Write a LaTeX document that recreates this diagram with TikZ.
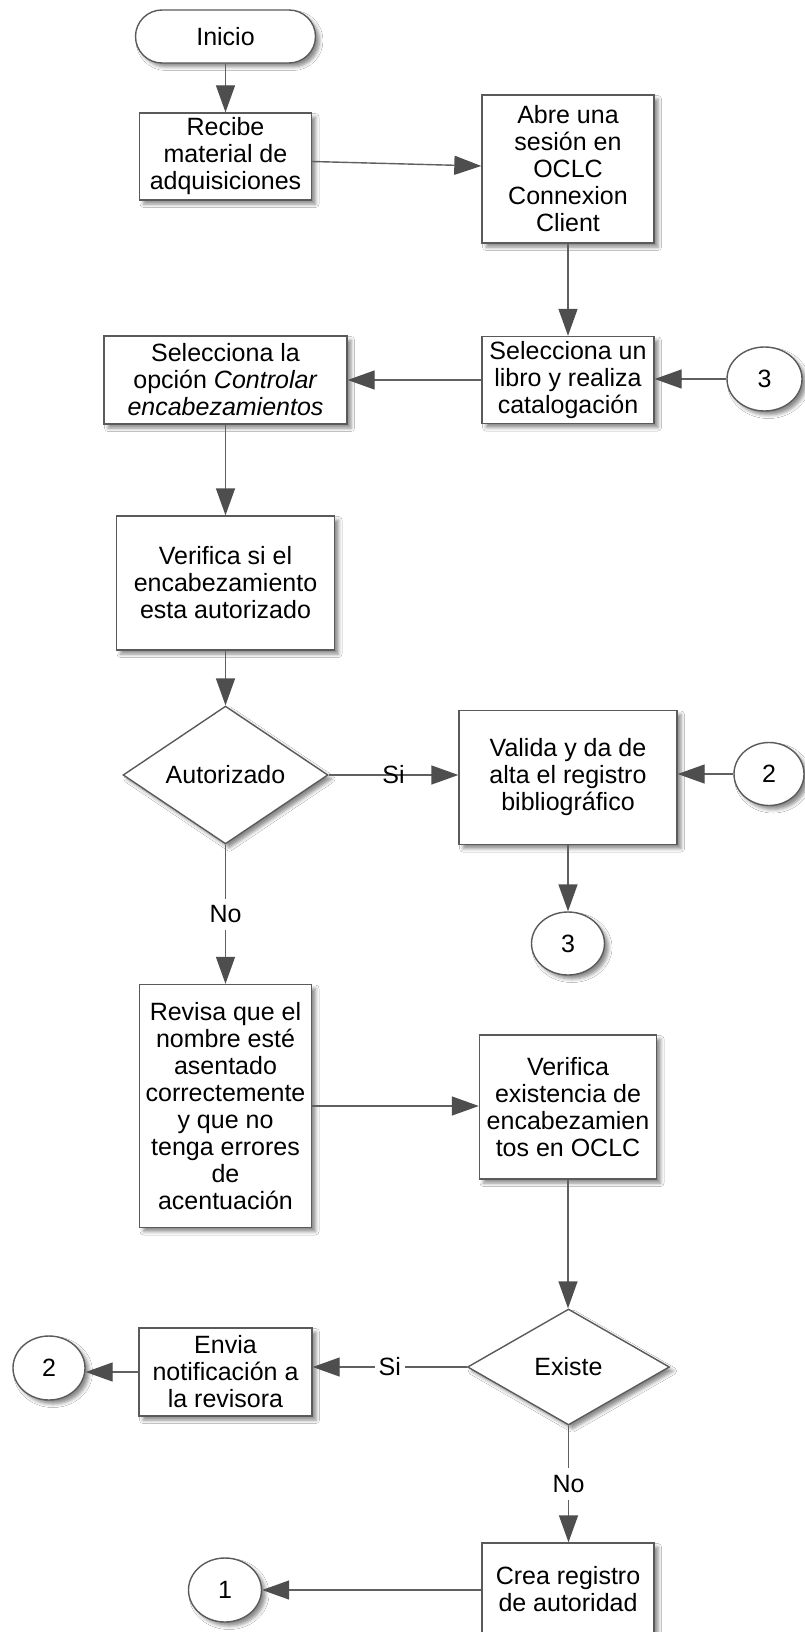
\documentclass[tikz,border=0pt]{standalone}
\usepackage{fontspec}
\setmainfont{Liberation Sans}
\usetikzlibrary{shapes.geometric, arrows.meta, shadows.blur}
\definecolor{edgegray}{HTML}{5A5A5A}
\definecolor{wiregray}{HTML}{606060}
\definecolor{tipgray}{HTML}{4E4E4E}

\begin{document}
\begin{tikzpicture}[x=1pt, y=-1pt,
  nodebase/.style={draw=edgegray, line width=1.4pt, fill=white, text=black,
    font=\fontsize{25}{27}\selectfont, align=center,
    blur shadow={shadow xshift=4pt, shadow yshift=-4pt,
                 shadow blur radius=3.5pt, shadow opacity=45}},
  procbox/.style={nodebase, rectangle, inner sep=4pt},
  terminal/.style={nodebase, rectangle, rounded corners=26.5pt, inner sep=4pt},
  decision/.style={nodebase, diamond, inner sep=0pt},
  onpage/.style={nodebase, ellipse, inner sep=0pt},
  connector/.style={draw=wiregray, line width=1.4pt,
    -{Triangle[length=27pt, width=19pt, color=tipgray, fill=tipgray]}},
  edgelabel/.style={font=\fontsize{25}{27}\selectfont, text=black,
    fill=white, inner xsep=4pt, inner ysep=7pt},
]
  % page area
  \fill[white] (0,0) rectangle (805,1632);
  \useasboundingbox (0,0) rectangle (805,1632);

  % left column
  \node[terminal, minimum width=180pt, minimum height=53pt] (inicio) at (225.5,36.5) {Inicio};
  \node[procbox, minimum width=172pt, minimum height=87pt] (recibe) at (225.5,156.5)
    {Recibe\\material de\\adquisiciones};
  \node[procbox, minimum width=243pt, minimum height=88pt] (opcion) at (225.5,380)
    {Selecciona la\\opción \textit{Controlar}\\\textit{encabezamientos}};
  \node[procbox, minimum width=218pt, minimum height=134pt] (verifica) at (225.5,583)
    {Verifica si el\\encabezamiento\\esta autorizado};
  \node[decision, minimum width=205pt, minimum height=115pt] (autor) at (225.5,775) {Autorizado};
  \node[procbox, minimum width=172pt, minimum height=243pt] (revisa) at (225.5,1106)
    {Revisa que el\\nombre esté\\asentado\\correctemente\\y que no\\tenga errores\\de\\acentuación};
  \node[procbox, minimum width=173pt, minimum height=88pt] (envia) at (225.5,1372)
    {Envia\\notificación a\\la revisora};
  \node[onpage, minimum width=72pt, minimum height=64pt] (dosB) at (49,1368) {2};
  \node[onpage, minimum width=73pt, minimum height=64pt] (uno) at (225,1590) {1};

  % right column
  \node[procbox, minimum width=172pt, minimum height=148pt] (abre) at (568,169)
    {Abre una\\sesión en\\OCLC\\Connexion\\Client};
  \node[procbox, minimum width=172pt, minimum height=87pt] (libro) at (568,380)
    {Selecciona un\\libro y realiza\\catalogación};
  \node[onpage, minimum width=75pt, minimum height=64pt] (tresA) at (764.5,379) {3};
  \node[procbox, minimum width=218pt, minimum height=134pt] (valida) at (568,777.5)
    {Valida y da de\\alta el registro\\bibliográfico};
  \node[onpage, minimum width=70pt, minimum height=63pt] (dosA) at (769,774) {2};
  \node[onpage, minimum width=73pt, minimum height=63pt] (tresB) at (568,943.5) {3};
  \node[procbox, minimum width=177pt, minimum height=144pt] (existencia) at (568,1107)
    {Verifica\\existencia de\\encabezamien\\tos en OCLC};
  \node[decision, minimum width=202pt, minimum height=116pt] (existe) at (568.5,1367) {Existe};
  \node[procbox, minimum width=172pt, minimum height=92pt] (crea) at (568,1589)
    {Crea registro\\de autoridad};

  % flow
  \draw[connector] (inicio.south) -- (inicio.south |- recibe.north);
  \draw[connector] ([yshift=-5pt]recibe.east) -- ([yshift=3pt]abre.west);
  \draw[connector] (abre.south) -- (abre.south |- libro.north);
  \draw[connector] (tresA.west) -- (tresA.west -| libro.east);
  \draw[connector] (libro.west) -- (libro.west -| opcion.east);
  \draw[connector] (opcion.south) -- (opcion.south |- verifica.north);
  \draw[connector] (verifica.south) -- (verifica.south |- autor.north);
  \draw[connector] (autor.east) -- (autor.east -| valida.west)
    node[midway, edgelabel, fill=none] {Si};
  \draw[connector] (dosA.west) -- (dosA.west -| valida.east);
  \draw[connector] (valida.south) -- (valida.south |- tresB.north);
  \draw[connector] (autor.south) -- (autor.south |- revisa.north)
    node[midway, edgelabel] {No};
  \draw[connector] (revisa.east) -- (revisa.east -| existencia.west);
  \draw[connector] (existencia.south) -- (existencia.south |- existe.north);
  \draw[connector] (existe.west) -- (existe.west -| envia.east)
    node[midway, edgelabel] {Si};
  \draw[connector] (envia.west) -- (envia.west -| dosB.east);
  \draw[connector] (existe.south) -- (existe.south |- crea.north)
    node[midway, edgelabel] {No};
  \draw[connector] (crea.west |- uno.east) -- (uno.east);
\end{tikzpicture}
\end{document}
